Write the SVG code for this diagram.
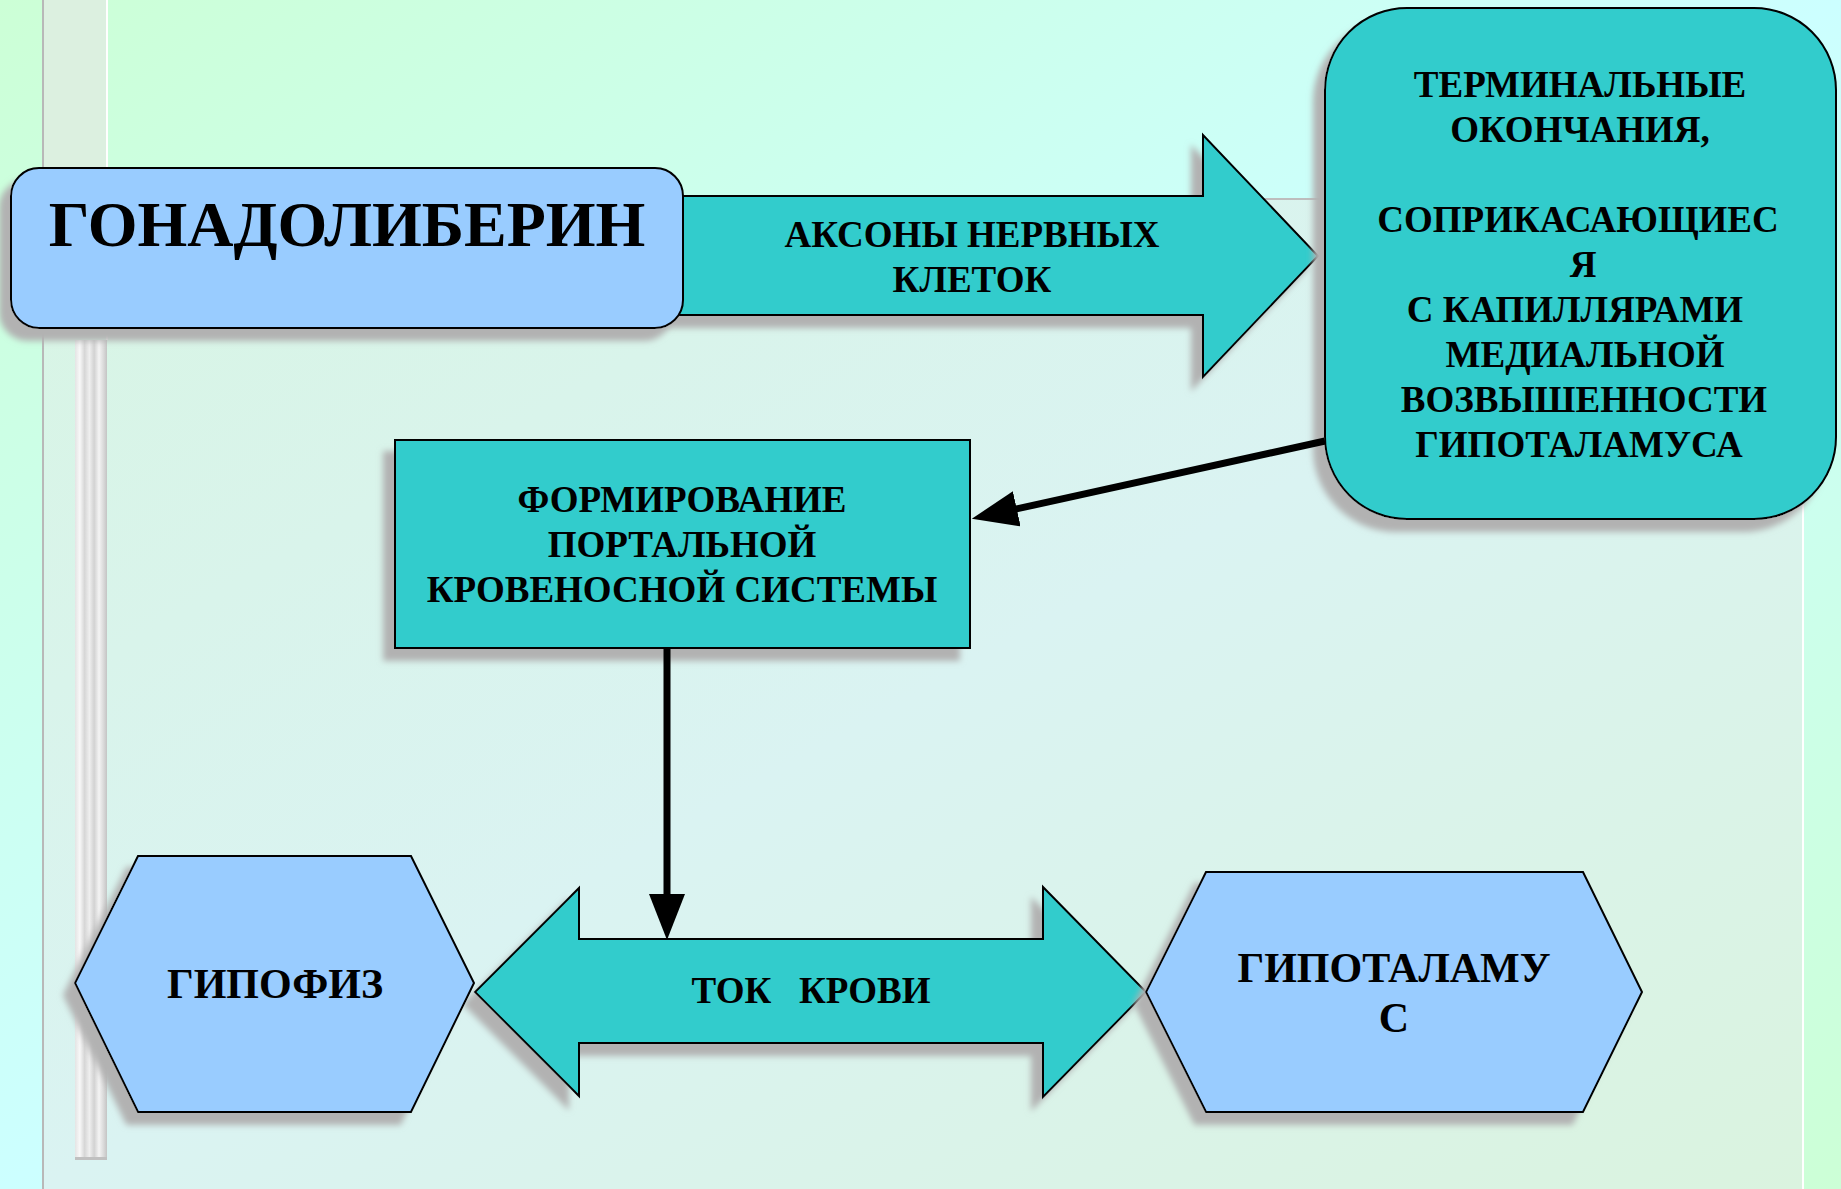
<svg xmlns="http://www.w3.org/2000/svg" width="1841" height="1189" viewBox="0 0 1841 1189">
  <defs>
    <style>
      .t { font-family: "Liberation Serif", "Times New Roman", serif; font-weight: bold; fill: #000; text-anchor: middle; }
      .big { font-size: 64px; }
      .mid { font-size: 37px; }
      .hx { font-size: 42px; }
      .teal { fill: #33cccc; stroke: #000; stroke-width: 2; stroke-linejoin: miter; }
      .blue { fill: #99ccff; stroke: #000; stroke-width: 2; }
      .conn { stroke: #000; stroke-width: 7; fill: none; }
    </style>
    <linearGradient id="bg" x1="0" y1="0" x2="1" y2="1">
      <stop offset="0" stop-color="#ccffd6"/>
      <stop offset="0.5" stop-color="#ccffff"/>
      <stop offset="1" stop-color="#ccffd6"/>
    </linearGradient>
    <linearGradient id="panel" x1="0" y1="0" x2="1" y2="1">
      <stop offset="0" stop-color="#d8f5e4"/>
      <stop offset="0.5" stop-color="#daf3f2"/>
      <stop offset="1" stop-color="#daf3df"/>
    </linearGradient>
    <linearGradient id="silver" x1="0" y1="0" x2="1" y2="0">
      <stop offset="0" stop-color="#e4e4e4"/>
      <stop offset="0.15" stop-color="#f8f8f8"/>
      <stop offset="0.3" stop-color="#d6d6d6"/>
      <stop offset="0.45" stop-color="#efefef"/>
      <stop offset="0.6" stop-color="#d2d2d2"/>
      <stop offset="0.75" stop-color="#f4f4f4"/>
      <stop offset="0.9" stop-color="#d8d8d8"/>
      <stop offset="1" stop-color="#c4c4c4"/>
    </linearGradient>
    <filter id="shadow" x="-10%" y="-10%" width="125%" height="130%">
      <feGaussianBlur in="SourceAlpha" stdDeviation="3"/>
      <feOffset dx="-11" dy="12" result="off"/>
      <feFlood flood-color="#b2b2b2"/>
      <feComposite in2="off" operator="in" result="sh"/>
      <feMerge>
        <feMergeNode in="sh"/>
        <feMergeNode in="SourceGraphic"/>
      </feMerge>
    </filter>
    <marker id="head" viewBox="0 0 46 36" markerWidth="46" markerHeight="36" refX="10" refY="18" orient="auto" markerUnits="userSpaceOnUse">
      <path d="M0,0 L46,18 L0,36 z" fill="#000"/>
    </marker>
  </defs>

  <!-- backdrop -->
  <rect x="0" y="0" width="1841" height="1189" fill="url(#bg)"/>
  <rect x="43" y="0" width="64" height="199" fill="#dcf0e0"/>
  <rect x="43" y="199" width="1760" height="990" fill="url(#panel)"/>
  <line x1="107" y1="199" x2="1803" y2="199" stroke="#bdbdbd" stroke-width="2"/>
  <line x1="43" y1="0" x2="43" y2="1189" stroke="#b8b8b8" stroke-width="2"/>
  <line x1="107" y1="0" x2="107" y2="340" stroke="#ffffff" stroke-width="2"/>
  <line x1="1803" y1="199" x2="1803" y2="1189" stroke="#ffffff" stroke-width="2"/>
  <rect x="75" y="340" width="32" height="820" fill="url(#silver)"/>
  <rect x="75" y="1157" width="32" height="3" fill="#c0c0c0"/>

  <!-- block arrow: axons -->
  <g id="axons">
    <path class="teal" filter="url(#shadow)" d="M670,196 L1203,196 L1203,135 L1318,256 L1203,377 L1203,315 L670,315 Z"/>
    <text class="t mid" x="972" y="247">АКСОНЫ НЕРВНЫХ</text>
    <text class="t mid" x="972" y="292">КЛЕТОК</text>
  </g>

  <!-- hormone -->
  <g id="gonadoliberin">
    <rect class="blue" filter="url(#shadow)" x="11" y="168" width="672" height="160" rx="28" ry="28"/>
    <text class="t big" x="347" y="246">ГОНАДОЛИБЕРИН</text>
  </g>

  <!-- terminal endings -->
  <g id="terminals">
    <rect class="teal" filter="url(#shadow)" x="1325" y="8" width="511" height="511" rx="82" ry="82"/>
    <text class="t mid" x="1580" y="97">ТЕРМИНАЛЬНЫЕ</text>
    <text class="t mid" x="1580" y="142">ОКОНЧАНИЯ,</text>
    <text class="t mid" x="1578" y="232">СОПРИКАСАЮЩИЕС</text>
    <text class="t mid" x="1583" y="277">Я</text>
    <text class="t mid" x="1575" y="322">С КАПИЛЛЯРАМИ</text>
    <text class="t mid" x="1585" y="367">МЕДИАЛЬНОЙ</text>
    <text class="t mid" x="1584" y="412">ВОЗВЫШЕННОСТИ</text>
    <text class="t mid" x="1579" y="457">ГИПОТАЛАМУСА</text>
  </g>

  <!-- portal system -->
  <g id="portal">
    <rect class="teal" filter="url(#shadow)" x="395" y="440" width="575" height="208"/>
    <text class="t mid" x="682" y="512">ФОРМИРОВАНИЕ</text>
    <text class="t mid" x="682" y="557">ПОРТАЛЬНОЙ</text>
    <text class="t mid" x="682" y="602">КРОВЕНОСНОЙ СИСТЕМЫ</text>
  </g>

  <!-- double block arrow: blood flow -->
  <g id="bloodflow">
    <path class="teal" filter="url(#shadow)" d="M475,992 L579,888 L579,939 L1043,939 L1043,887 L1146,992 L1043,1097 L1043,1043 L579,1043 L579,1096 Z"/>
    <text class="t mid" x="811" y="1003" xml:space="preserve">ТОК   КРОВИ</text>
  </g>

  <!-- pituitary -->
  <g id="hypophysis">
    <polygon class="blue" filter="url(#shadow)" points="138,856 411,856 474,983 411,1112 138,1112 75,983"/>
    <text class="t hx" x="275" y="998">ГИПОФИЗ</text>
  </g>

  <!-- hypothalamus -->
  <g id="hypothalamus">
    <polygon class="blue" filter="url(#shadow)" points="1206,872 1583,872 1642,992 1583,1112 1206,1112 1146,992"/>
    <text class="t hx" x="1394" y="982">ГИПОТАЛАМУ</text>
    <text class="t hx" x="1394" y="1032">С</text>
  </g>

  <!-- connectors -->
  <g id="connectors">
    <line class="conn" x1="1325" y1="441" x2="1007" y2="511" marker-end="url(#head)"/>
    <line class="conn" x1="667" y1="648" x2="667" y2="904" marker-end="url(#head)"/>
  </g>
</svg>
